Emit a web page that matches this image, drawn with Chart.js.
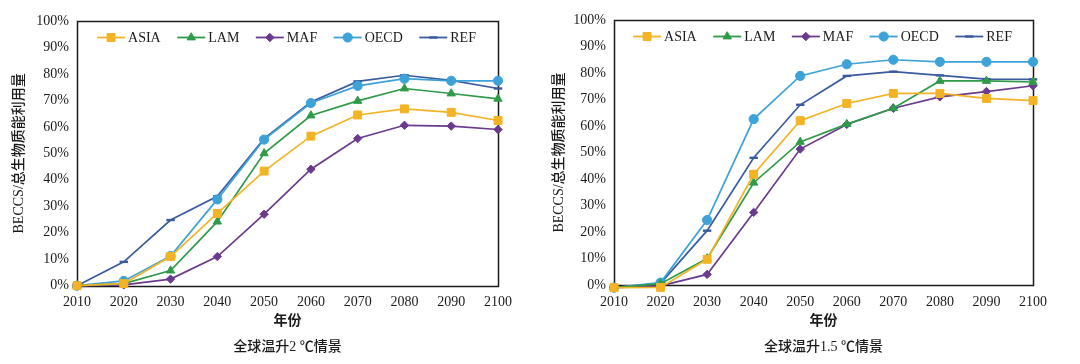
<!DOCTYPE html>
<html><head><meta charset="utf-8">
<script src="https://cdn.jsdelivr.net/npm/chart.js@4.4.1/dist/chart.umd.min.js"></script>
<style>
html,body{margin:0;padding:0;background:#fff;}
#wrap{position:relative;width:1080px;height:364px;background:#fff;}
.box{position:absolute;top:0;width:540px;height:364px;}
canvas{display:block;}
</style></head><body>
<div id="wrap">
  <div class="box" style="left:0"><canvas id="c1" width="540" height="364"></canvas></div>
  <div class="box" style="left:540px"><canvas id="c2" width="540" height="364"></canvas></div>
</div>
<script>
// ---- data ----
const years = ['2010','2020','2030','2040','2050','2060','2070','2080','2090','2100'];
const seriesNames = ['ASIA','LAM','MAF','OECD','REF'];
const yTicks = [0,10,20,30,40,50,60,70,80,90,100];

// 2 ℃ scenario (%)
const asia2C = [0, 0.8, 11, 27.3, 43.3, 56.5, 64.5, 66.8, 65.5, 62.4];
const lam2C  = [0, 0.8, 5.7, 24.2, 50, 64.3, 69.8, 74.5, 72.6, 70.6];
const maf2C  = [0, 0.3, 2.5, 11, 27, 44, 55.6, 60.6, 60.3, 59];
const oecd2C = [0, 1.8, 11.2, 32.6, 55.2, 69, 75.5, 78.2, 77.4, 77.4];
const ref2C  = [0, 9, 24.8, 33.8, 55.6, 69.4, 77.2, 79.5, 77.6, 74.5];

// 1.5 ℃ scenario (%)
const asia15C = [-1, -0.9, 9.7, 41.8, 62, 68.5, 72.3, 72.3, 70.4, 69.6];
const lam15C  = [-1, 0.5, 10, 38.6, 54, 60.7, 66.7, 77, 77, 76.6];
const maf15C  = [-1, -0.3, 4, 27.4, 51.3, 60.6, 66.7, 71, 73, 75.2];
const oecd15C = [-1, 0.9, 24.5, 62.6, 78.9, 83.3, 85, 84.2, 84.2, 84.2];
const ref15C  = [-1, 0.6, 20.5, 48, 68, 78.9, 80.5, 79.1, 77.7, 77.6];

const yTitle = 'BECCS/总生物质能利用量';
const xTitle = '年份';
const title2C = '全球温升2 ℃情景';
const title15C = '全球温升1.5 ℃情景';

// ---- styles ----
const colors = ['#F3B325', '#2F9B48', '#6A3A8E', '#3DA2D8', '#3A5C9E'];
const styles = [
  {pointStyle:'rect', radius:5.6},
  {pointStyle:'triangle', radius:4.8},
  {pointStyle:'rectRot', radius:4.2},
  {pointStyle:'circle', radius:4.6},
  {pointStyle:'line', radius:4.2}
];
const FONT = '"Liberation Serif", "Noto Sans CJK SC", serif';
const TXT = '#1b1b1b';

const framePlugin = {
  id: 'frame',
  beforeDatasetsDraw(chart){
    const a = chart.chartArea, ctx = chart.ctx;
    ctx.save();
    ctx.strokeStyle = '#1a1a1a'; ctx.lineWidth = 1.5;
    ctx.strokeRect(Math.round(a.left)+0.5, Math.round(a.top)+0.5, Math.round(a.right - a.left), Math.round(a.bottom - a.top));
    ctx.restore();
  }
};

// legend drawn inside the plot area (line + marker, then label)
const innerLegend = {
  id: 'innerLegend',
  afterDraw(chart){
    const ctx = chart.ctx, a = chart.chartArea;
    const lineW = 28, gapTxt = 3, gapItem = 16.5, cy = a.top + 16.5;
    ctx.save();
    ctx.font = '14px ' + FONT;
    const widths = seriesNames.map(n => lineW + gapTxt + ctx.measureText(n).width);
    const total = widths.reduce((s, w) => s + w, 0) + gapItem * (seriesNames.length - 1);
    let x = (a.left + a.right) / 2 - total / 2 - 1;
    seriesNames.forEach((n, i) => {
      ctx.strokeStyle = colors[i]; ctx.fillStyle = colors[i];
      ctx.lineWidth = 1.8;
      ctx.beginPath(); ctx.moveTo(x, cy); ctx.lineTo(x + lineW, cy); ctx.stroke();
      ctx.lineWidth = i === 4 ? 2.4 : 1;
      Chart.helpers.drawPoint(ctx, {pointStyle: styles[i].pointStyle, radius: styles[i].radius, rotation: 0, borderWidth: ctx.lineWidth}, x + lineW / 2, cy);
      ctx.fillStyle = TXT;
      ctx.textBaseline = 'middle';
      ctx.textAlign = 'left';
      ctx.fillText(n, x + lineW + gapTxt, cy + 1);
      x += widths[i] + gapItem;
    });
    ctx.restore();
  }
};

function makeChart(id, series, subtitle, L){
  const datasets = series.map((vals, i) => ({
    label: seriesNames[i],
    data: vals,
    borderColor: colors[i],
    backgroundColor: colors[i],
    borderWidth: 1.7,
    pointStyle: styles[i].pointStyle,
    pointRadius: styles[i].radius,
    pointBorderWidth: i === 4 ? 2.4 : 1,
    pointBackgroundColor: colors[i],
    pointBorderColor: colors[i],
    tension: 0,
    clip: false
  }));
  return new Chart(document.getElementById(id), {
    type: 'line',
    data: { labels: years, datasets },
    plugins: [framePlugin, innerLegend],
    options: {
      responsive: false,
      animation: false,
      events: [],
      layout: { padding: { left: 0, right: L.right, top: L.top, bottom: 0 } },
      plugins: {
        legend: { display: false },
        title: {
          display: true,
          text: subtitle,
          position: 'bottom',
          fullSize: false,
          color: TXT,
          font: { family: FONT, size: 14, weight: '500' },
          padding: { top: 2, bottom: 8 }
        },
        tooltip: { enabled: false }
      },
      scales: {
        x: {
          type: 'category',
          offset: false,
          grid: { display: false, drawTicks: false },
          border: { display: false },
          ticks: { color: TXT, font: { family: FONT, size: 14 }, padding: L.xPad, maxRotation: 0, autoSkip: false },
          title: { display: true, text: xTitle, color: TXT, font: { family: FONT, size: 14, weight: 'bold' }, padding: { top: 0, bottom: 7 } },
          afterFit(s){ s.height = L.xH; }
        },
        y: {
          min: 0, max: 100,
          grid: { display: false, drawTicks: false },
          border: { display: false },
          afterBuildTicks(s){ s.ticks = yTicks.map(v => ({ value: v })); },
          ticks: { color: TXT, font: { family: FONT, size: 14 }, padding: 8, callback: v => v + '%' },
          title: { display: true, text: yTitle, color: TXT, font: { family: FONT, size: 14, weight: '500' }, padding: { top: 11, bottom: 0 } },
          afterFit(s){ s.width = L.yW; }
        }
      }
    }
  });
}

makeChart('c1', [asia2C, lam2C, maf2C, oecd2C, ref2C], title2C, { right: 42, top: 21, xH: 51.5, yW: 77, xPad: 8 });
makeChart('c2', [asia15C, lam15C, maf15C, oecd15C, ref15C], title15C, { right: 47, top: 20, xH: 52.2, yW: 74, xPad: 9 });
</script>
</body></html>
